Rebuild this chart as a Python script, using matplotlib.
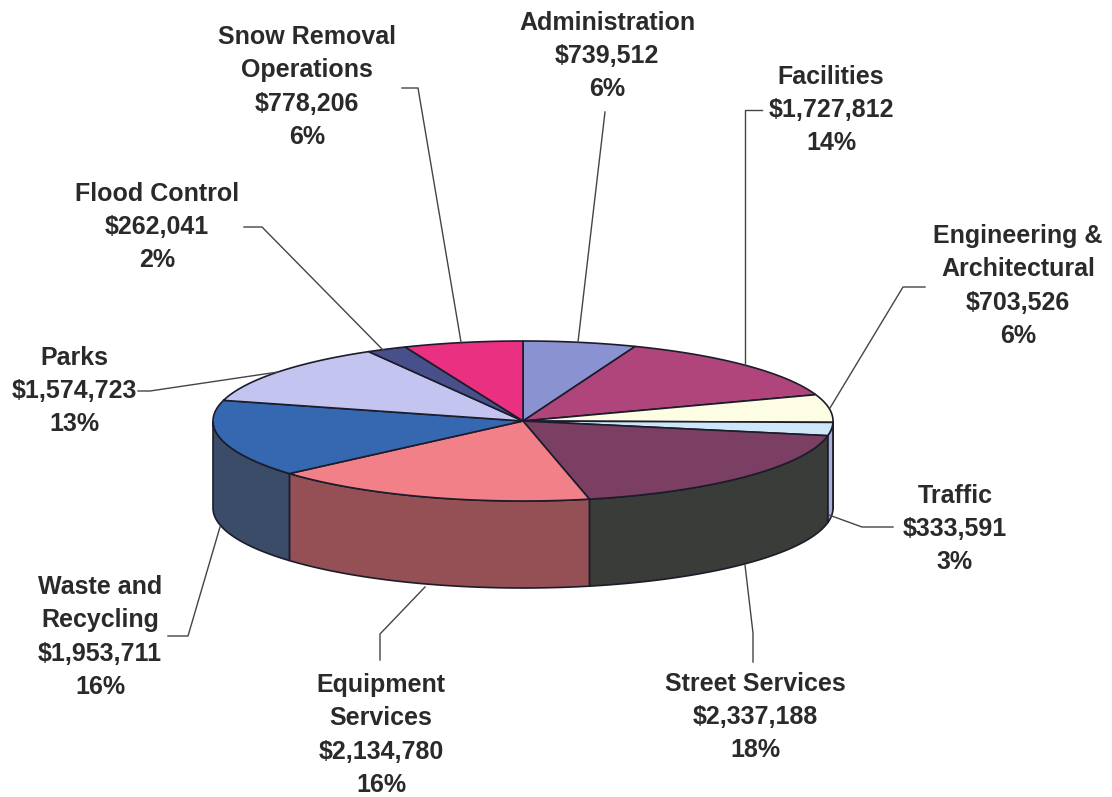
import numpy as np
import matplotlib
matplotlib.use("Agg")
import matplotlib.pyplot as plt
from matplotlib.patches import Polygon

categories = ["Administration", "Facilities", "Engineering &\nArchitectural", "Traffic",
              "Street Services", "Equipment\nServices", "Waste and\nRecycling", "Parks",
              "Flood Control", "Snow Removal\nOperations"]
values = [739512, 1727812, 703526, 333591, 2337188, 2134780, 1953711, 1574723, 262041, 778206]
percents = [6, 14, 6, 3, 18, 16, 16, 13, 2, 6]
top_colors = ["#8a92d2", "#b0457c", "#fdfde4", "#cde6fa", "#7a3f62", "#f28088", "#3568b0", "#c4c4f0", "#48508c", "#ea3080"]
side_colors = ["#6a6fa8", "#7e2c54", "#c0bea6", "#a8aedc", "#3a3c3a", "#955055", "#3a4c68", "#8f8eb0", "#25284e", "#b01e54"]
label_xy = [(607, 56), (831, 110), (1018, 286), (955, 529), (755, 717), (381, 735), (100, 637), (74, 391), (157, 227), (307, 87)]
leaders = [[(578, 342), (605, 112), (605, 112)], [(745, 365), (745, 110), (762, 110)],
           [(830, 408), (903, 287), (925, 287)], [(829, 515), (862, 527), (893, 527)],
           [(745, 565), (753, 633), (753, 662)], [(425, 587), (380, 634), (380, 660)],
           [(220, 527), (188, 636), (168, 636)], [(278, 372), (150, 391), (138, 391)],
           [(383, 350), (262, 227), (244, 227)], [(461, 342), (418, 88), (402, 88)]]

W, H = 1112, 797
CX, CY, RX, RY, DEPTH = 523, 421, 310, 80, 87

fig = plt.figure(figsize=(W / 100, H / 100), dpi=100)
ax = fig.add_axes([0, 0, 1, 1])
ax.set_xlim(0, W)
ax.set_ylim(H, 0)
ax.axis("off")

fracs = np.array(values, dtype=float) / sum(values)
edges = np.concatenate([[0], np.cumsum(fracs)]) * 2 * np.pi


def rim(a, b, n=80):
    t = np.linspace(a, b, n)
    return CX + RX * np.sin(t), CY - RY * np.cos(t)


# side walls, only the front half of the rim is visible
for a, b, c in zip(edges[:-1], edges[1:], side_colors):
    lo, hi = max(a, np.pi / 2), min(b, 3 * np.pi / 2)
    if hi <= lo:
        continue
    x, y = rim(lo, hi)
    pts = np.r_[np.c_[x, y], np.c_[x[::-1], y[::-1] + DEPTH]]
    ax.add_patch(Polygon(pts, closed=True, fc=c, ec="#1c1c2a", lw=1.2, zorder=2))

# top slices
for a, b, c in zip(edges[:-1], edges[1:], top_colors):
    x, y = rim(a, b)
    pts = np.r_[[[CX, CY]], np.c_[x, y]]
    ax.add_patch(Polygon(pts, closed=True, fc=c, ec="#1c1c2a", lw=1.2, zorder=3))

for line in leaders:
    xs, ys = zip(*line)
    ax.plot(xs, ys, color="#444444", lw=1.0, zorder=4)

for name, v, p, (x, y) in zip(categories, values, percents, label_xy):
    ax.text(x, y, f"{name}\n${v:,}\n{p}%", ha="center", va="center", fontsize=18,
            family="Liberation Sans", weight="bold", color="#2a2a2a", linespacing=1.48)

fig.savefig("out.png", dpi=100, facecolor="white")
